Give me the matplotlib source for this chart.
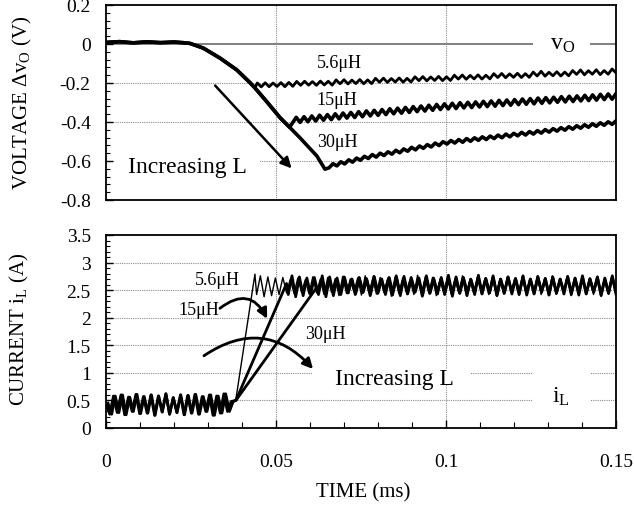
import numpy as np
import matplotlib
matplotlib.use("Agg")
import matplotlib.pyplot as plt
from matplotlib.patches import FancyArrowPatch, Rectangle
from matplotlib.ticker import MultipleLocator

plt.rcParams['font.family'] = ['Liberation Serif', 'DejaVu Serif']
plt.rcParams['mathtext.fontset'] = 'custom'
plt.rcParams['mathtext.rm'] = 'Liberation Serif'
plt.rcParams['mathtext.it'] = 'Liberation Serif:italic'
plt.rcParams['mathtext.bf'] = 'Liberation Serif:bold'

# ---------------- data: output voltage deviation (V) vs time (ms) ----------------
t_fall = [0.000, 0.004, 0.008, 0.012, 0.016, 0.020, 0.0225, 0.0247, 0.0286, 0.0335,
          0.0384, 0.0424, 0.0438, 0.047, 0.0512, 0.054, 0.057, 0.062, 0.0644]
v_fall = [0.008, 0.012, 0.006, 0.011, 0.007, 0.010, 0.007, 0.003, -0.021, -0.072,
          -0.132, -0.199, -0.225, -0.29, -0.378, -0.427, -0.48, -0.574, -0.642]

t_v56_start, t_v56_end = 0.0445, 0.150
v_56 = [-0.200, -0.220, -0.199, -0.219, -0.200, -0.218, -0.198, -0.219, -0.197, -0.217,
        -0.192, -0.212, -0.191, -0.211, -0.193, -0.212, -0.190, -0.210, -0.191, -0.211,
        -0.184, -0.204, -0.183, -0.205, -0.185, -0.203, -0.182, -0.204, -0.184, -0.203,
        -0.176, -0.196, -0.175, -0.197, -0.177, -0.195, -0.174, -0.196, -0.176, -0.195,
        -0.168, -0.188, -0.167, -0.189, -0.169, -0.187, -0.166, -0.188, -0.168, -0.187,
        -0.160, -0.180, -0.159, -0.181, -0.161, -0.179, -0.158, -0.180, -0.160, -0.179,
        -0.152, -0.172, -0.151, -0.173, -0.153, -0.171, -0.150, -0.172, -0.152, -0.171,
        -0.144, -0.164, -0.140, -0.165, -0.145, -0.163, -0.142, -0.164, -0.144, -0.163,
        -0.136, -0.156, -0.133, -0.158, -0.137, -0.155, -0.132, -0.157, -0.136, -0.155,
        -0.128, -0.148]

t_v15_start, t_v15_end = 0.0548, 0.150
v_15 = [-0.406, -0.376, -0.402, -0.373, -0.399, -0.369, -0.395, -0.365, -0.391, -0.362,
        -0.388, -0.358, -0.384, -0.354, -0.380, -0.351, -0.377, -0.347, -0.373, -0.343,
        -0.369, -0.340, -0.366, -0.336, -0.362, -0.332, -0.358, -0.329, -0.355, -0.325,
        -0.351, -0.321, -0.347, -0.318, -0.344, -0.314, -0.340, -0.310, -0.336, -0.307,
        -0.333, -0.304, -0.331, -0.301, -0.328, -0.299, -0.326, -0.297, -0.323, -0.294,
        -0.321, -0.292, -0.319, -0.289, -0.316, -0.287, -0.314, -0.285, -0.311, -0.282,
        -0.309, -0.280, -0.307, -0.277, -0.304, -0.275, -0.302, -0.273, -0.299, -0.270,
        -0.297, -0.268, -0.295, -0.266, -0.292, -0.263, -0.290, -0.261, -0.288, -0.258,
        -0.285, -0.256, -0.283, -0.254]

t_v30_start, t_v30_end = 0.0656, 0.150
v_30 = [-0.635, -0.614, -0.625, -0.604, -0.615, -0.594, -0.606, -0.585, -0.596, -0.576,
        -0.587, -0.567, -0.580, -0.560, -0.572, -0.553, -0.565, -0.545, -0.558, -0.538,
        -0.550, -0.530, -0.543, -0.523, -0.535, -0.516, -0.528, -0.508, -0.521, -0.501,
        -0.513, -0.495, -0.508, -0.490, -0.504, -0.485, -0.499, -0.481, -0.494, -0.476,
        -0.490, -0.472, -0.485, -0.467, -0.481, -0.462, -0.476, -0.458, -0.471, -0.453,
        -0.467, -0.449, -0.462, -0.444, -0.457, -0.439, -0.452, -0.434, -0.447, -0.429,
        -0.442, -0.424, -0.437, -0.419, -0.432, -0.414, -0.427, -0.409, -0.422, -0.404,
        -0.417, -0.399, -0.412, -0.394]

# ---------------- data: inductor current (A) vs time (ms) ----------------
t_ipre_start, t_ipre_end = 0.0, 0.0374
i_pre = [0.45, 0.25, 0.58, 0.28, 0.60, 0.24, 0.56, 0.30, 0.61, 0.26,
         0.57, 0.27, 0.60, 0.23, 0.58, 0.29, 0.62, 0.25, 0.55, 0.28,
         0.60, 0.24, 0.59, 0.27, 0.61, 0.25, 0.57, 0.30, 0.60, 0.23,
         0.58, 0.27, 0.62, 0.30, 0.48]
t_ipre2_start, t_ipre2_end = 0.0006, 0.0368   # second trace (30 uH), shifted sampling

t_rise_56 = [0.0382, 0.0438]
i_rise_56 = [0.52, 2.79]
t_rise_15 = [0.0382, 0.0531]
i_rise_15 = [0.50, 2.62]
t_rise_30 = [0.0382, 0.0620]
i_rise_30 = [0.50, 2.55]

i_post = [2.42, 2.76, 2.38, 2.74, 2.40, 2.72, 2.42, 2.73, 2.45, 2.70,
          2.44, 2.72, 2.46, 2.69, 2.43, 2.74, 2.45, 2.70, 2.42, 2.73,
          2.46, 2.71, 2.40, 2.75, 2.44, 2.70, 2.47, 2.72, 2.41, 2.76,
          2.45, 2.70, 2.43, 2.73, 2.46, 2.71, 2.39, 2.74, 2.44, 2.72,
          2.47, 2.69, 2.42, 2.77, 2.44, 2.71, 2.45, 2.73, 2.40, 2.70,
          2.46, 2.74, 2.43, 2.71, 2.45, 2.76, 2.41, 2.70, 2.44, 2.73,
          2.47, 2.71, 2.42, 2.74, 2.45, 2.70, 2.43, 2.75, 2.46, 2.71,
          2.41, 2.73, 2.44, 2.70, 2.47, 2.74, 2.42, 2.72, 2.45, 2.76,
          2.43, 2.71, 2.46, 2.73, 2.40, 2.70, 2.44, 2.74, 2.46, 2.71,
          2.42, 2.75, 2.45, 2.70, 2.43, 2.73, 2.47]
t_post_end = 0.150
t_post_step = 0.0011

labels_L = ["5.6μH", "15μH", "30μH"]
x_ticks = [0, 0.05, 0.1, 0.15]
x_ticklabels = ["0", "0.05", "0.1", "0.15"]
v_ticks = [-0.8, -0.6, -0.4, -0.2, 0, 0.2]
v_ticklabels = ["-0.8", "-0.6", "-0.4", "-0.2", "0", "0.2"]
i_ticks = [0, 0.5, 1, 1.5, 2, 2.5, 3, 3.5]
i_ticklabels = ["0", "0.5", "1", "1.5", "2", "2.5", "3", "3.5"]

# ---------------- build series ----------------
t_fall_a = np.array(t_fall)
v_fall_a = np.array(v_fall)
tv56 = np.linspace(t_v56_start, t_v56_end, len(v_56))
tv15 = np.linspace(t_v15_start, t_v15_end, len(v_15))
tv30 = np.linspace(t_v30_start, t_v30_end, len(v_30))

m56 = t_fall_a <= 0.0438
m15 = t_fall_a <= 0.054
s56_t = np.concatenate([t_fall_a[m56], tv56]); s56_v = np.concatenate([v_fall_a[m56], v_56])
s15_t = np.concatenate([t_fall_a[m15], tv15]); s15_v = np.concatenate([v_fall_a[m15], v_15])
s30_t = np.concatenate([t_fall_a, tv30]); s30_v = np.concatenate([v_fall_a, v_30])

tipre = np.linspace(t_ipre_start, t_ipre_end, len(i_pre))
tipre2 = np.linspace(t_ipre2_start, t_ipre2_end, len(i_pre))


def cur_series(t_pre, t_rise, i_rise):
    start = t_rise[-1] + 0.0005
    n = int(round((t_post_end - start) / t_post_step)) + 1
    t_post = np.linspace(start, t_post_end, n)
    t = np.concatenate([t_pre, t_rise, t_post])
    i = np.concatenate([i_pre, i_rise, i_post[:n]])
    return t, i


c56_t, c56_i = cur_series(tipre, t_rise_56, i_rise_56)
c15_t, c15_i = cur_series(tipre, t_rise_15, i_rise_15)
c30_t, c30_i = cur_series(tipre2, t_rise_30, i_rise_30)

# ---------------- figure ----------------
W, H = 634, 510
fig = plt.figure(figsize=(W / 100, H / 100), dpi=100)
ax1 = fig.add_axes([106 / W, 1 - 201 / H, 510 / W, 195 / H])
ax2 = fig.add_axes([106 / W, 1 - 429 / H, 510 / W, 193 / H])

grid_kw = dict(color='#8a8a8a', lw=0.8, linestyle=(0, (1, 1)), zorder=0.5)

# ---- top: voltage ----
ax1.set_xlim(0, 0.15)
ax1.set_ylim(-0.8, 0.2)
for y in [-0.6, -0.4, -0.2]:
    ax1.axhline(y, **grid_kw)
for x in [0.05, 0.1]:
    ax1.axvline(x, **grid_kw)
ax1.axhline(0, color='#808080', lw=1.4, zorder=0.6)
ax1.add_patch(Rectangle((0.0, -0.655), 0.0453, 0.09, facecolor='white', edgecolor='none', zorder=0.9))
ax1.add_patch(Rectangle((0.1256, -0.045), 0.0168, 0.09, facecolor='white', edgecolor='none', zorder=0.9))

ax1.plot(s30_t, s30_v, color='black', lw=2.6, zorder=3)
ax1.plot(s15_t, s15_v, color='black', lw=2.6, zorder=3)
ax1.plot(s56_t, s56_v, color='black', lw=2.0, zorder=3)

ax1.text(0.062, -0.096, labels_L[0], fontsize=13, ha='left', va='center')
ax1.text(0.062, -0.285, labels_L[1], fontsize=13, ha='left', va='center')
ax1.text(0.062, -0.50, labels_L[2], fontsize=13, ha='left', va='center')
ax1.text(0.0065, -0.627, "Increasing L", fontsize=17, ha='left', va='center', zorder=4)
ax1.text(0.1343, 0.005, r"v$_\mathrm{O}$", fontsize=17, ha='center', va='center', zorder=4)
ax1.annotate('', xy=(0.0546, -0.638), xytext=(0.0321, -0.213),
             arrowprops=dict(arrowstyle='-|>', lw=1.8, color='black', mutation_scale=16,
                             shrinkA=0, shrinkB=0), zorder=5)

ax1.set_yticks(v_ticks)
ax1.set_yticklabels(v_ticklabels)
ax1.yaxis.set_minor_locator(MultipleLocator(0.04))
ax1.set_xticks(x_ticks)
ax1.tick_params(axis='x', which='both', length=0, labelbottom=False)
ax1.tick_params(axis='y', which='major', direction='in', length=5, width=1, labelsize=14, pad=11)
ax1.tick_params(axis='y', which='minor', direction='in', length=3, width=0.8)

# ---- bottom: current ----
ax2.set_xlim(0, 0.15)
ax2.set_ylim(0, 3.5)
for y in [0.5, 1.0, 1.5, 2.0, 2.5, 3.0]:
    ax2.axhline(y, **grid_kw)
for x in [0.05, 0.1]:
    ax2.axvline(x, **grid_kw)
ax2.add_patch(Rectangle((0.0609, 0.80), 0.0461, 0.27, facecolor='white', edgecolor='none', zorder=0.9))
ax2.add_patch(Rectangle((0.1256, 0.44), 0.0168, 0.63, facecolor='white', edgecolor='none', zorder=0.9))

ax2.plot(c30_t, c30_i, color='black', lw=2.0, zorder=3)
ax2.plot(c15_t, c15_i, color='black', lw=2.0, zorder=3)
ax2.plot(c56_t, c56_i, color='black', lw=1.0, zorder=3)

ax2.text(0.0262, 2.69, labels_L[0], fontsize=13, ha='left', va='center')
ax2.text(0.0212, 2.14, labels_L[1], fontsize=13, ha='left', va='center')
ax2.text(0.0585, 1.72, labels_L[2], fontsize=13, ha='left', va='center')
ax2.text(0.0674, 0.89, "Increasing L", fontsize=17, ha='left', va='center', zorder=4)
ax2.text(0.1338, 0.58, r"i$_\mathrm{L}$", fontsize=17, ha='center', va='center', zorder=4)

arr1 = FancyArrowPatch((0.0335, 2.17), (0.0474, 1.98), transform=ax2.transData,
                       connectionstyle='arc3,rad=-0.6', arrowstyle='-|>', mutation_scale=15,
                       lw=2.0, color='black', shrinkA=0, shrinkB=0, zorder=5)
arr2 = FancyArrowPatch((0.0288, 1.31), (0.0609, 1.07), transform=ax2.transData,
                       connectionstyle='arc3,rad=-0.43', arrowstyle='-|>', mutation_scale=15,
                       lw=2.0, color='black', shrinkA=0, shrinkB=0, zorder=5)
ax2.add_patch(arr1)
ax2.add_patch(arr2)

ax2.set_xticks(x_ticks)
ax2.set_xticklabels(x_ticklabels)
ax2.xaxis.set_minor_locator(MultipleLocator(0.01))
ax2.set_yticks(i_ticks)
ax2.set_yticklabels(i_ticklabels)
ax2.yaxis.set_minor_locator(MultipleLocator(0.1))
ax2.tick_params(axis='x', which='major', direction='in', length=6, width=1, labelsize=14, pad=18)
ax2.tick_params(axis='x', which='minor', direction='in', length=4, width=0.8)
ax2.tick_params(axis='y', which='major', direction='in', length=5, width=1, labelsize=14, pad=11)
ax2.tick_params(axis='y', which='minor', direction='in', length=3, width=0.8)

for ax in (ax1, ax2):
    for sp in ax.spines.values():
        sp.set_linewidth(1.3)
        sp.set_color('black')

fig.text(22 / W, 1 - 103 / H, r"VOLTAGE Δv$_\mathrm{O}$ (V)", rotation=90, ha='center', va='center', fontsize=15)
fig.text(19 / W, 1 - 329 / H, r"CURRENT i$_\mathrm{L}$ (A)", rotation=90, ha='center', va='center', fontsize=15)
fig.text(363 / W, 1 - 493 / H, "TIME (ms)", ha='center', va='center', fontsize=15)

fig.savefig("out.png", dpi=100, facecolor='white')
